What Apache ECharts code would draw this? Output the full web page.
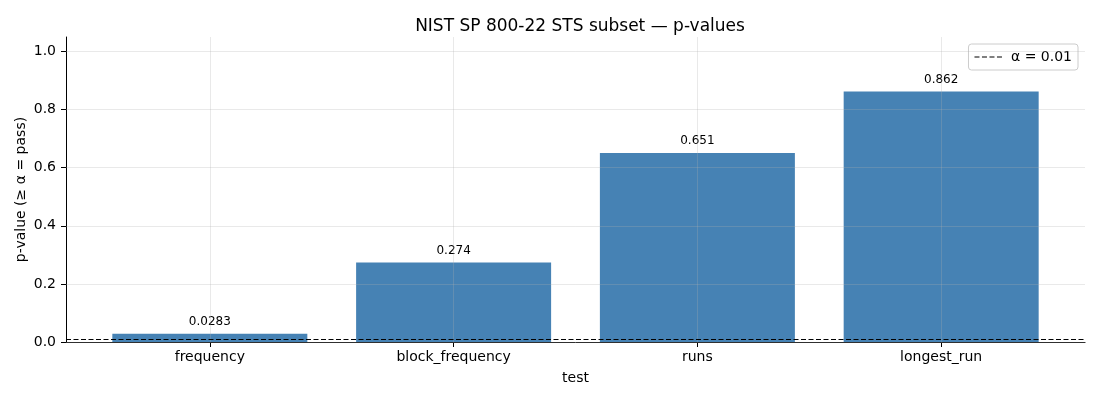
<!DOCTYPE html>
<html><head><meta charset="utf-8">
<script src="https://cdn.jsdelivr.net/npm/echarts@6/dist/echarts.min.js"></script>
<style>html,body{margin:0;padding:0;background:#fff}#c{width:1100px;height:400px}</style>
</head><body><div id="c"></div>
<script>
const categories = ['frequency', 'block_frequency', 'runs', 'longest_run'];
const pValues = [0.0283, 0.274, 0.651, 0.862];
const pLabels = ['0.0283', '0.274', '0.651', '0.862'];
const yTicks = [0, 0.2, 0.4, 0.6, 0.8, 1.0];
const alpha = 0.01;
const alphaName = 'α = 0.01';

const font = 'DejaVu Sans';
const idx = categories.map((c, i) => i);
const chart = echarts.init(document.getElementById('c'), null, {renderer: 'canvas'});
const gridStyle = {color: 'rgba(176,176,176,0.35)', width: 0.8, type: 'solid'};
const dashIcon = 'path://M0,0h5v1h-5z M7.5,0h5v1h-5z M15,0h5v1h-5z M22.5,0h5v1h-5z';
chart.setOption({
  animation: false,
  textStyle: {fontFamily: font},
  title: {text: 'NIST SP 800-22 STS subset — p-values', left: 575, top: 13, textAlign: 'center',
    textStyle: {fontFamily: font, fontSize: 17, fontWeight: 'normal', color: '#000'}},
  grid: {left: 66, right: 15, top: 37, bottom: 58, containLabel: false},
  legend: {
    data: [{name: alphaName, icon: dashIcon}], right: 22, top: 44, orient: 'vertical',
    backgroundColor: '#fff', borderColor: '#cccccc', borderWidth: 1, borderRadius: 3,
    padding: [6, 6, 6, 6], itemWidth: 27.5, itemHeight: 1.5, itemGap: 5,
    textStyle: {fontFamily: font, fontSize: 14, color: '#000', padding: [0, 0, 0, 4]}
  },
  xAxis: {
    type: 'value', min: -0.59, max: 3.59,
    name: 'test', nameLocation: 'middle', nameGap: 29, nameMoveOverlap: false,
    nameTextStyle: {fontFamily: font, fontSize: 14, color: '#000'},
    axisLine: {show: true, onZero: false, lineStyle: {color: '#000', width: 1}},
    axisTick: {show: true, length: 5, lineStyle: {color: '#000'}, customValues: idx},
    axisLabel: {fontFamily: font, fontSize: 14, color: '#000', margin: 8, customValues: idx,
      formatter: v => categories[Math.round(v)] || ''},
    splitLine: {show: false}
  },
  yAxis: {
    type: 'value', min: 0, max: 1.05, interval: 0.2,
    name: 'p-value (≥ α = pass)', nameLocation: 'middle', nameGap: 38, nameMoveOverlap: false,
    nameTextStyle: {fontFamily: font, fontSize: 14, color: '#000'},
    axisLine: {show: true, onZero: false, lineStyle: {color: '#000', width: 1}},
    axisTick: {show: true, length: 5, lineStyle: {color: '#000'}, customValues: yTicks},
    axisLabel: {fontFamily: font, fontSize: 14, color: '#000', margin: 10, customValues: yTicks,
      formatter: v => v.toFixed(1)},
    splitLine: {show: false}
  },
  series: [
    {
      type: 'bar', name: 'p-value', data: pValues.map((v, i) => [i, v]), barWidth: 195, z: 2,
      itemStyle: {color: '#4682b4'},
      label: {show: true, position: 'top', distance: 6, fontFamily: font, fontSize: 12, color: '#000',
        formatter: p => pLabels[p.dataIndex]}
    },
    {
      type: 'line', name: 'grid', data: [], z: 3, silent: true,
      markLine: {
        silent: true, symbol: ['none', 'none'], label: {show: false}, animation: false,
        lineStyle: gridStyle,
        data: yTicks.map(v => ({yAxis: v})).concat(idx.map(i => ({xAxis: i})))
      }
    },
    {
      type: 'line', name: alphaName, data: [], z: 4, symbol: 'none',
      itemStyle: {color: '#000'},
      lineStyle: {color: '#000', width: 1, type: [5, 2.5]},
      markLine: {
        silent: true, symbol: ['none', 'none'], label: {show: false}, animation: false,
        lineStyle: {color: '#000', width: 1, type: [5, 2.5]},
        data: [{yAxis: alpha}]
      }
    }
  ]
});
</script>
</body></html>
